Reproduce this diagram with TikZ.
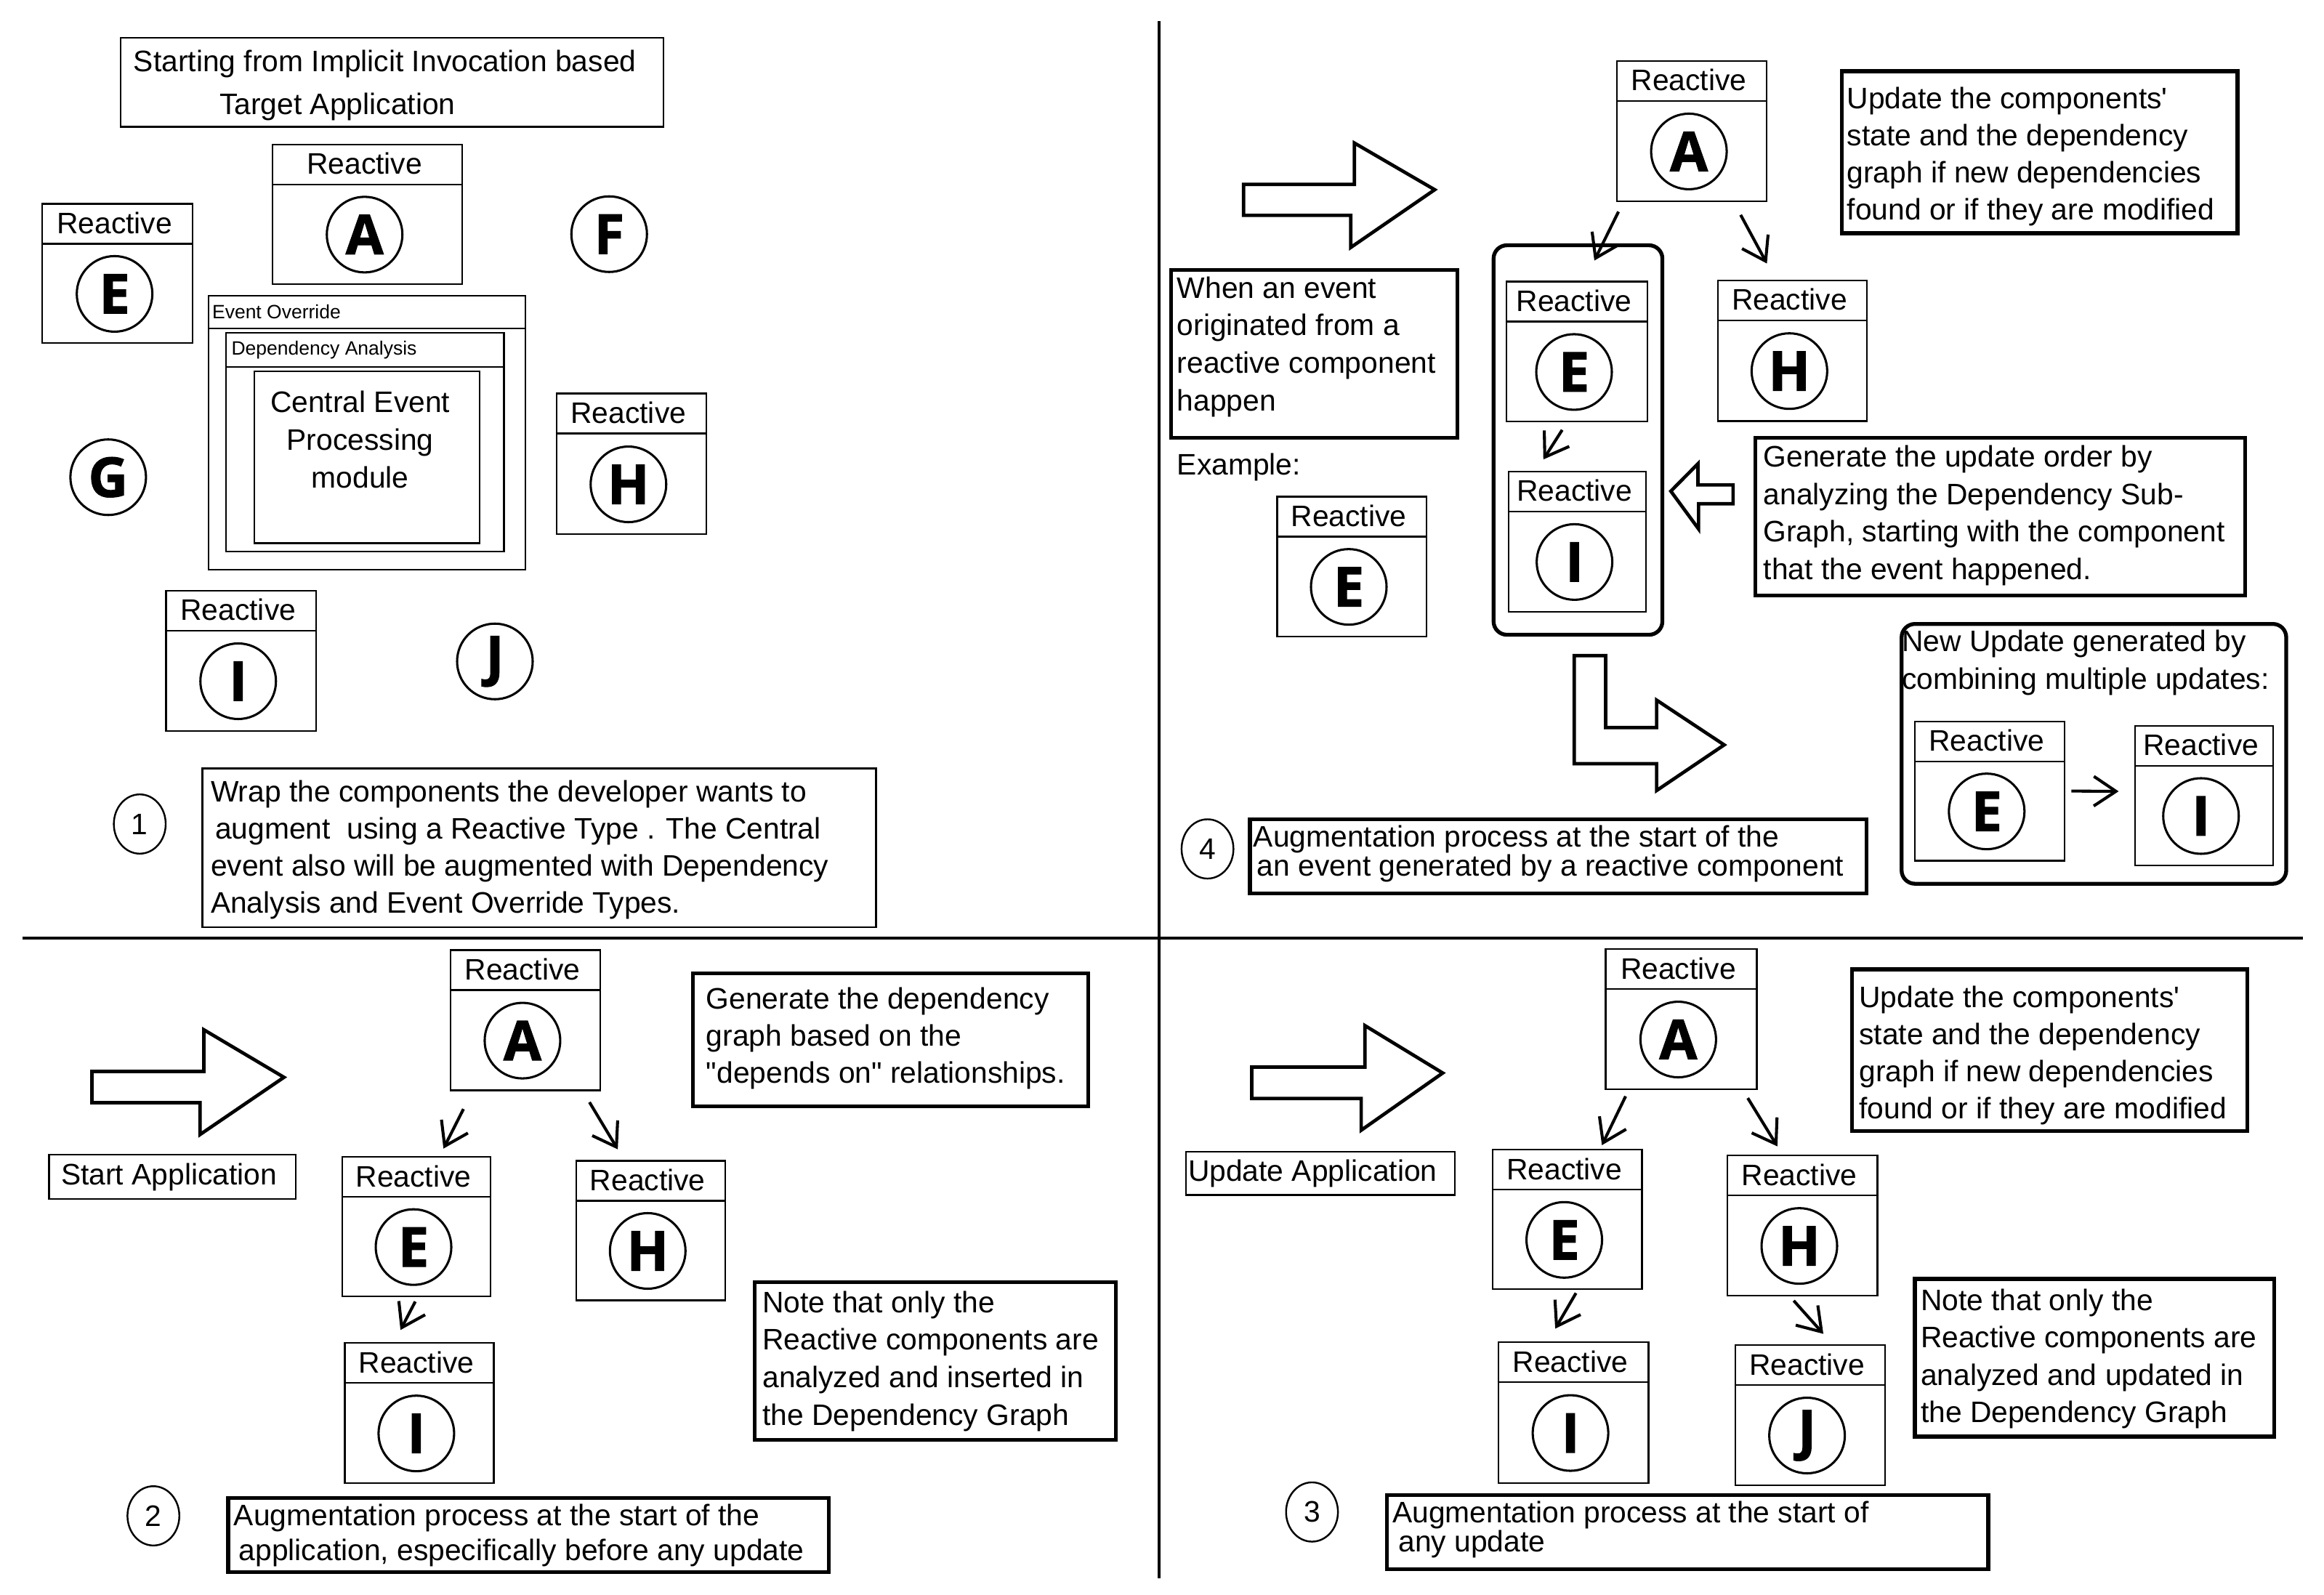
\documentclass[tikz,border=0pt]{standalone}
\usepackage{fontspec}
\setmainfont{Liberation Sans}[Ligatures=TeXOff]
\newfontfamily\lettfont{Open Sans}[FakeBold=1.5, BoldFeatures={FakeBold=1.5}]
\usetikzlibrary{arrows.meta,calc,shapes.geometric}
\tikzset{
  rboxst/.style={draw, line width=1.1pt, rectangle, inner sep=0pt},
  hdr/.style={line width=1.1pt},
  rlabel/.style={inner sep=0pt, font=\fontsize{20}{24}\selectfont},
  lett/.style={draw, circle, line width=1.5pt, minimum size=51pt, inner sep=0pt, font=\lettfont\bfseries\fontsize{37}{37}\selectfont},
  thinbox/.style={draw, line width=1.1pt, rectangle, inner sep=0pt, anchor=north west},
  thickbox/.style={draw, line width=2.6pt, rectangle, inner sep=0pt, anchor=north west},
  rbound/.style={draw, line width=2.6pt, rectangle, rounded corners=9pt, inner sep=0pt, anchor=north west},
  txt/.style={inner sep=0pt, anchor=north west, align=left},
  numc/.style={draw, ellipse, line width=1.2pt, minimum width=35pt, minimum height=40pt, inner sep=0pt, font=\fontsize{20}{20}\selectfont},
  conn/.style={line width=2pt, -{Straight Barb[length=15pt,width=20pt]}},
  hollow/.style={draw, line width=2.3pt, line join=miter},
  small/.style={inner sep=0pt, anchor=west, font=\fontsize{13}{15}\selectfont},
  divider/.style={line width=2pt},
}
\newcommand\fs[1]{\fontsize{20}{#1}\selectfont}
% name, cx, top, width, height, letter
\newcommand\reactivebox[6]{%
  \node[rboxst, minimum width=#4, minimum height=#5, anchor=north] (#1) at (#2,#3) {};
  \draw[hdr] ($(#1.north west)+(0,27.5)$) -- ($(#1.north east)+(0,27.5)$);
  \node[rlabel] (#1-r) at ($(#1.north)+(-2,13.5)$) {Reactive};
  \node[lett] (#1-c) at ($(#1.north)!0.5!(#1.south)+(-2,13.75)$) {#6};
}
\begin{document}
\begin{tikzpicture}[x=1pt,y=-1pt]
\path[fill=white] (0,0) rectangle (1568,1076);
\useasboundingbox (0,0) rectangle (1568,1076);

% dividers
\draw[line width=1.6pt] (782,14) -- (782,1065);
\draw[divider] (15,633) -- (1554,633);

% ================= Quadrant 1 (top left) =================
\node[thinbox, minimum width=366, minimum height=60] (title) at (81,25) {};
\node[txt, font=\fs{29}] (title-t) at (90,33.5) {Starting from Implicit Invocation based\\\hspace*{58pt}Target Application};

\reactivebox{A1}{248}{97}{128}{94}{A}
\reactivebox{E1}{79.3}{137}{101.5}{94}{E}
\reactivebox{H1}{426}{265}{101}{95}{H}
\reactivebox{I1}{162.7}{398}{101.4}{94.7}{I}
\node[lett] (F1) at (411,158) {F};
\node[lett] (G1) at (73,322) {G};
\node[lett] (J1) at (333.9,446.3) {J};

\node[thinbox, minimum width=214, minimum height=185] (eo) at (140,199) {};
\draw[hdr] (eo.north west |- 0,221.6) -- (eo.north east |- 0,221.6);
\node[small] (eo-t) at (143,210.5) {Event Override};
\node[thinbox, minimum width=187.5, minimum height=147.6] (da) at (152,224) {};
\draw[hdr] (da.north west |- 0,247.6) -- (da.north east |- 0,247.6);
\node[small] (da-t) at (156,236) {Dependency Analysis};
\node[thinbox, minimum width=152, minimum height=116] (cep) at (171,250) {};
\node[inner sep=0pt, anchor=north, align=center, font=\fs{25.5}] (cep-t) at (243,263.5) {Central Event\\Processing\\module};

\node[numc] (n1) at (94.3,556) {1};
\node[thinbox, minimum width=454.5, minimum height=107] (b1) at (136,518) {};
\node[txt, font=\fs{25}] (b1-t) at (142,526.5) {Wrap the components the developer wants to\\\hspace*{3pt}augment\ \ using a Reactive Type . The Central\\event also will be augmented with Dependency\\Analysis and Event Override Types.};

% ================= Quadrant 4 (top right) =================
\path[hollow] (839,124.4) -- (913.8,124.4) -- (913.8,96.5) -- (968,128) -- (911.3,167) -- (911.3,145.3) -- (839,145.3) -- cycle;

\node[thickbox, minimum width=193.2, minimum height=113.1] (when) at (788.9,181) {};
\node[txt, font=\fs{25.3}] (when-t) at (794,186.5) {When an event\\originated from a\\reactive component\\happen};
\node[txt, font=\fs{24}] (example) at (794,305.9) {Example:};

\reactivebox{A2}{1141.5}{40.6}{101.2}{94.6}{A}
\node[thickbox, minimum width=267.1, minimum height=109.4] (upd1) at (1241.2,46.7) {};
\node[txt, font=\fs{25}] (upd1-t) at (1246,58.5) {Update the components'\\state and the dependency\\graph if new dependencies\\found or if they are modified};

\node[rbound, minimum width=113.9, minimum height=262.8] (grp) at (1006.4,164.2) {};
\reactivebox{E2}{1064}{189.4}{95.2}{94.6}{E}
\reactivebox{H2}{1209.3}{188.6}{100.2}{95}{H}
\reactivebox{I2}{1064.3}{317.6}{92.6}{94.6}{I}
\draw[conn] ($(A2.south)+(-49.5,6.5)$) -- ($(E2.north)+(11.7,-13.6)$);
\draw[conn] ($(A2.south)+(32.9,8.7)$) -- ($(H2.north)+(-17.2,-10.8)$);
\draw[conn] ($(E2.south)+(-10,5)$) -- ($(I2.north)+(-23,-7.6)$);

\path[hollow] (1127.3,331.4) -- (1145.6,312.9) -- (1145.6,327.2) -- (1169.3,327.2) -- (1169.3,339.9) -- (1146,339.9) -- (1146,356.9) -- cycle;
\node[thickbox, minimum width=330.4, minimum height=106.4] (gen2) at (1183,294.1) {};
\node[txt, font=\fs{25.2}] (gen2-t) at (1189.6,300.5) {Generate the update order by\\analyzing the Dependency Sub-\\Graph, starting with the component\\that the event happened.};

\reactivebox{Eex}{912}{334.6}{100.7}{94.2}{E}

\path[hollow] (1062.1,442.4) -- (1083.3,442.4) -- (1083.3,490.9) -- (1117.7,490.9) -- (1117.7,472.4) -- (1163.3,502.6) -- (1117.7,533.4) -- (1117.7,515.3) -- (1062.1,515.3) -- cycle;

\node[rbound, minimum width=259.5, minimum height=175.3] (newupd) at (1281.7,419.7) {};
\node[txt, font=\fs{25.5}] (newupd-t) at (1283,425) {New Update generated by\\combining multiple updates:};
\reactivebox{En}{1342.4}{486.2}{101.2}{94}{E}
\reactivebox{In}{1487}{489.2}{93}{94.2}{I}
\draw[conn] ($(En.east)+(4,0)$) -- ($(In.west)+(-10.5,-2.9)$);

\node[numc] (n4) at (814.7,572.8) {4};
\node[thickbox, minimum width=416, minimum height=50] (aug4) at (842,551.5) {};
\node[txt, font=\fs{18}] (aug4-t) at (845.5,556.8) {Augmentation process at the start of the\\\hspace*{2.5pt}an event generated by a reactive component};

% ================= Quadrant 2 (bottom left) =================
\path[hollow] (62,722.9) -- (137.5,722.9) -- (137.5,694.8) -- (191.6,726.9) -- (135,765.5) -- (135,744) -- (62,744) -- cycle;
\node[thinbox, minimum width=166.5, minimum height=29.7] (start) at (32.5,778.7) {};
\node[txt, font=\fs{24}] (start-t) at (41,784.5) {Start Application};

\reactivebox{A3}{354.5}{640.5}{101}{94.7}{A}
\reactivebox{E3}{281}{780.1}{100}{94.1}{E}
\reactivebox{H3}{439}{782.7}{100.6}{94.1}{H}
\reactivebox{I3}{282.9}{905.7}{100.6}{94.4}{I}
\draw[conn] ($(A3.south)+(-41.8,12)$) -- ($(E3.north)+(18.2,-5.1)$);
\draw[conn] ($(A3.south)+(43.2,7.4)$) -- ($(H3.north)+(-22.2,-7.2)$);
\draw[conn] ($(E3.south)+(-0.8,2.9)$) -- ($(I3.north)+(-12.7,-8.3)$);

\node[thickbox, minimum width=266.7, minimum height=89.6] (gen3) at (466.3,655.6) {};
\node[txt, font=\fs{25}] (gen3-t) at (476.3,666.3) {Generate the dependency\\graph based on the\\"depends on" relationships.};

\node[thickbox, minimum width=243.6, minimum height=106.4] (note3) at (507.8,863.9) {};
\node[txt, font=\fs{25.3}] (note3-t) at (514.3,870.9) {Note that only the\\Reactive components are\\analyzed and inserted in\\the Dependency Graph};

\node[numc] (n2) at (103.5,1022.8) {2};
\node[thickbox, minimum width=405.2, minimum height=50.1] (aug2) at (152.6,1009.5) {};
\node[txt, font=\fs{23.4}] (aug2-t) at (157.6,1014.8) {Augmentation process at the start of the\\\hspace*{3.4pt}application, especifically before any update};

% ================= Quadrant 3 (bottom right) =================
\path[hollow] (844.5,720) -- (920.9,720) -- (920.9,692) -- (973.4,724) -- (918.4,762.6) -- (918.4,741.2) -- (844.5,741.2) -- cycle;
\node[thinbox, minimum width=181.4, minimum height=29.4] (updapp) at (799.5,776.4) {};
\node[txt, font=\fs{24}] (updapp-t) at (801.5,782.5) {Update Application};

\reactivebox{A4}{1134.3}{639.9}{101.9}{94.4}{A}
\reactivebox{E4}{1057.4}{775.2}{100.9}{94.2}{E}
\reactivebox{H4}{1216}{779.2}{101.4}{94.4}{H}
\reactivebox{I4}{1061.6}{905.1}{101.4}{95}{I}
\reactivebox{J4}{1221.2}{907.1}{101}{94.4}{J}
\draw[conn] ($(A4.south)+(-37.5,4.3)$) -- ($(E4.north)+(23.4,-2.5)$);
\draw[conn] ($(A4.south)+(44.9,5.5)$) -- ($(H4.north)+(-16.8,-5.7)$);
\draw[conn] ($(E4.south)+(5.9,2)$) -- ($(I4.north)+(-12.3,-8.6)$);
\draw[conn] ($(H4.south)+(-5.8,2.9)$) -- ($(J4.north)+(9,-7.1)$);

\node[thickbox, minimum width=266.8, minimum height=109.2] (upd4) at (1248.2,652.8) {};
\node[txt, font=\fs{25}] (upd4-t) at (1254.2,664.9) {Update the components'\\state and the dependency\\graph if new dependencies\\found or if they are modified};

\node[thickbox, minimum width=242.4, minimum height=106.4] (note4) at (1290.6,861.6) {};
\node[txt, font=\fs{25.3}] (note4-t) at (1295.7,869.4) {Note that only the\\Reactive components are\\analyzed and updated in\\the Dependency Graph};

\node[numc] (n3) at (885.2,1020.2) {3};
\node[thickbox, minimum width=405.7, minimum height=50.1] (aug3) at (934.4,1007.5) {};
\node[txt, font=\fs{20}] (aug3-t) at (939.4,1012.5) {Augmentation process at the start of\\\hspace*{4pt}any update};
\end{tikzpicture}
\end{document}
